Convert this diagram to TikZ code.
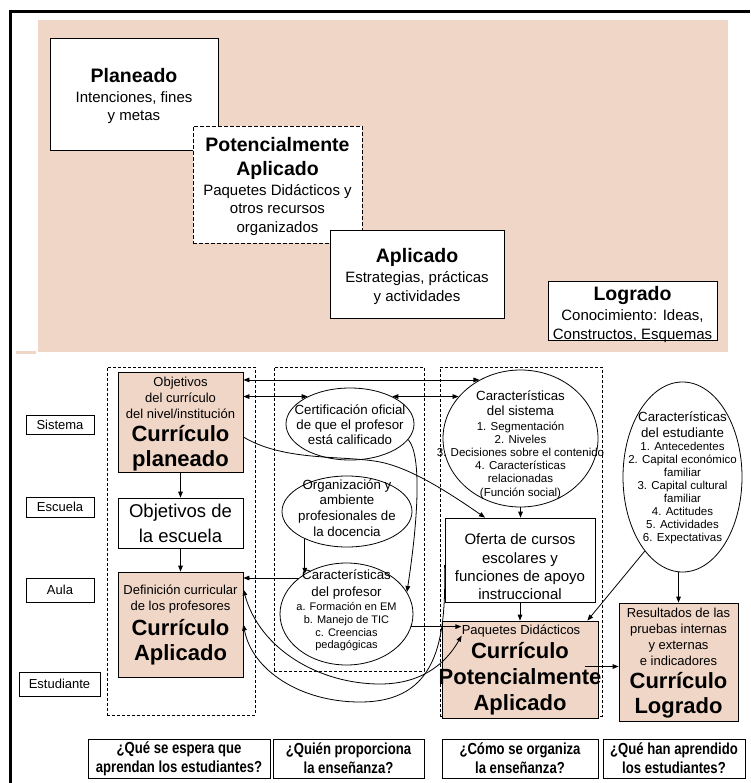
\documentclass[tikz,border=0pt]{standalone}
\usepackage{fontspec}
\setmainfont{Liberation Sans}
\newfontfamily\narrowsans{Liberation Sans}[FakeStretch=0.82]
\usetikzlibrary{arrows.meta,shapes.geometric}
\definecolor{salmon}{RGB}{240,214,199}
\newcommand\myrf[2]{\fontsize{#1}{#2}\selectfont}
\newcommand\mybf[2]{\fontsize{#1}{#2}\selectfont\bfseries}
\begin{document}
\begin{tikzpicture}[x=1pt,y=-1pt,line width=0.8pt,
  >={Triangle[length=6pt,width=4.6pt]},
  box/.style={draw, fill=white, inner sep=0pt},
  cbox/.style={draw, fill=salmon, inner sep=0pt},
  col/.style={draw, dash pattern=on 3pt off 2pt, line width=0.7pt, inner sep=0pt},
  ell/.style={draw, ellipse, inner sep=0pt},
  lbl/.style={inner sep=0pt, align=center},
  lvl/.style={draw, fill=white, inner sep=0pt, font=\myrf{13}{15}},
  qbox/.style={draw, fill=white, inner sep=0pt, align=center,
    font=\narrowsans\bfseries\fontsize{16}{19}\selectfont},
]
\useasboundingbox (0,0) rectangle (750,783);

% upper panel: background and frame
\fill[salmon] (38,20) rectangle (728,352);
\fill[salmon] (16,351) rectangle (36,353.5);
\draw[line width=3.5pt] (10.3,783) -- (10.3,11.7) -- (750,11.7);

% staircase of curriculum levels
\node[box, minimum width=168, minimum height=112] (planbox) at (134,94) {};
\node[lbl, font=\mybf{19.5}{24}] (plant) at (134,76) {Planeado};
\node[lbl, font=\myrf{15}{18}] (plans) at (134,107.5) {Intenciones, fines\\y metas};

\node[box, dash pattern=on 4pt off 2pt, line width=0.9pt, minimum width=169, minimum height=117] (potbox) at (277.5,184.5) {};
\node[lbl, font=\mybf{19.5}{24}] (pott) at (277.5,158) {Potencialmente\\Aplicado};
\node[lbl, font=\myrf{15}{18.5}] (pots) at (277.5,210) {Paquetes Didácticos y\\otros recursos\\organizados};

\node[box, minimum width=174, minimum height=88] (aplbox) at (417,274) {};
\node[lbl, font=\mybf{19.5}{24}] (aplt) at (417,257) {Aplicado};
\node[lbl, font=\myrf{15}{18.5}] (apls) at (417,288) {Estrategias, prácticas\\y actividades};

\node[box, minimum width=169, minimum height=59] (logbox) at (632.5,310.5) {};
\node[lbl, font=\mybf{19.5}{24}] (logt) at (632.5,296) {Logrado};
\node[lbl, font=\myrf{15}{18.5}] (logs) at (632.5,326) {Conocimiento: Ideas,\\Constructos, Esquemas};

% level labels
\node[lvl, minimum width=68, minimum height=18.6] (lsis) at (60,425) {Sistema};
\node[lvl, minimum width=68, minimum height=20] (lesc) at (60,507) {Escuela};
\node[lvl, minimum width=68, minimum height=24] (laula) at (60,590) {Aula};
\node[lvl, minimum width=81, minimum height=24] (lest) at (59.5,684) {Estudiante};

% dashed columns
\node[col, minimum width=148, minimum height=348] (col1) at (181,541) {};
\node[col, minimum width=150, minimum height=304] (col2) at (349,519) {};
\node[col, minimum width=162, minimum height=349] (col3) at (521,541.5) {};

% column 1
\node[cbox, minimum width=125, minimum height=100] (cplan) at (180.5,422) {};
\node[lbl, font=\myrf{13}{16}] (cplans) at (180.5,397.5) {Objetivos\\del currículo\\del nivel/institución};
\node[lbl, font=\mybf{22}{25}] (cplant) at (180.5,448) {Currículo\\planeado};

\node[box, minimum width=125, minimum height=50] (cesc) at (180.5,523) {};
\node[lbl, font=\myrf{18.5}{24.5}] (cesct) at (180.5,523.5) {Objetivos de\\la escuela};

\node[cbox, minimum width=125, minimum height=105] (cdef) at (180.5,624.5) {};
\node[lbl, font=\myrf{13}{16}] (cdefs) at (180.5,599) {Definición curricular\\de los profesores};
\node[lbl, font=\mybf{22}{25}] (cdeft) at (180.5,642) {Currículo\\Aplicado};

% column 2
\node[ell, minimum width=128, minimum height=72] (cert) at (350,424) {};
\node[lbl, font=\myrf{13.3}{15.3}] (certt) at (350,424.5) {Certificación oficial\\de que el profesor\\está calificado};

\node[ell, minimum width=130, minimum height=71] (org) at (347,511.5) {};
\node[lbl, font=\myrf{13.3}{15.7}] (orgt) at (347,508) {Organización y\\ambiente\\profesionales de\\la docencia};

\node[ell, minimum width=133, minimum height=102] (prof) at (346.5,614) {};
\node[lbl, font=\myrf{13.3}{17}] (proft) at (346.5,584.5) {Características\\del profesor};
\node[lbl, font=\myrf{11}{12.7}] (profs) at (346.5,627) {a. Formación en EM\\b. Manejo de TIC\\c. Creencias\\pedagógicas};

% column 3
\node[ell, minimum width=155, minimum height=137] (sis) at (520.5,438.5) {};
\node[lbl, font=\myrf{13.3}{15}] (sist) at (520.5,403.5) {Características\\del sistema};
\node[lbl, font=\myrf{11.5}{13.2}] (siss) at (520.5,460) {1. Segmentación\\2. Niveles\\3. Decisiones sobre el contenido\\4. Características\\relacionadas\\(Función social)};

\node[box, minimum width=150, minimum height=84] (ofe) at (520,560) {};
\node[lbl, font=\myrf{15}{18.3}] (ofet) at (520,567) {Oferta de cursos\\escolares y\\funciones de apoyo\\instruccional};

\node[cbox, minimum width=156, minimum height=97] (paq) at (520,669.5) {};
\node[lbl, font=\myrf{13}{16}] (paqtxt) at (521,631) {Paquetes Didácticos};
\node[lbl, font=\mybf{22}{26}] (paqt) at (520,679) {Currículo\\Potencialmente\\Aplicado};

% student side
\node[ell, minimum width=119, minimum height=190] (stu) at (682.5,477) {};
\node[lbl, font=\myrf{13.3}{16}] (stut) at (682.5,425) {Características\\del estudiante};
\node[lbl, font=\myrf{11.5}{13.1}] (stus) at (682.5,493) {1. Antecedentes\\2. Capital económico\\familiar\\3. Capital cultural\\familiar\\4. Actitudes\\5. Actividades\\6. Expectativas};

\node[cbox, minimum width=119, minimum height=118] (res) at (678.5,662) {};
\node[lbl, font=\myrf{13}{16}] (ress) at (678.5,637) {Resultados de las\\pruebas internas\\y externas\\e indicadores};
\node[lbl, font=\mybf{22}{25}] (rest) at (678.5,695) {Currículo\\Logrado};

% guiding questions
\node[qbox, minimum width=182, minimum height=39] (q1) at (179,758.5) {¿Qué se espera que\\aprendan los estudiantes?};
\node[qbox, minimum width=151, minimum height=39] (q2) at (348.5,758.5) {¿Quién proporciona\\la enseñanza?};
\node[qbox, minimum width=156, minimum height=39] (q3) at (520,758.5) {¿Cómo se organiza\\la enseñanza?};
\node[qbox, minimum width=142, minimum height=39] (q4) at (674,758.5) {¿Qué han aprendido\\los estudiantes?};

% connectors
\draw[<->] (sis.125 -| cplan.east) -- (sis.125);
\draw[<->] (cert.147 -| cplan.east) -- (cert.147);
\draw[<->] (cert.33) -- (cert.33 -| sis.146);
\draw[->] ([yshift=-15pt]cplan.east) .. controls (285,462) and (345,455) .. (380,462)
  .. controls (410,468) and (445,490) .. ([xshift=-35pt]ofe.north);
\draw[->] (cplan) -- (cesc);
\draw[->] (cesc) -- (cdef);
\draw[->] (org.213) -- (org.213 |- prof.136);
\draw[->] (cert.-15) .. controls (422,455) and (418,520) .. (prof.20);
\draw[->] (prof.143) -- (prof.143 -| cdef.east);
\draw[->] (prof.-11) -- (prof.-11 -| paqtxt.west);
\draw[->] (sis.south) -- (sis.south |- ofe.north);
\draw[->] (ofe.south) -- (ofe.south |- paq.north);
\draw[->] (res.north |- stu.south) -- (res.north);
\draw[->] (stu.243) -- ([xshift=-11pt]paq.north east);
\coordinate (pqout) at ([xshift=-13pt,yshift=3pt]paq.east);
\draw[->] (pqout) -- (pqout -| res.west);
\draw[->] ([yshift=-5pt]ofe.west) .. controls (446,640) and (438,702) .. (360,702)
  .. controls (300,702) and (252,670) .. (cdef.east);
\draw[<->] ([yshift=35pt]cdef.east) .. controls (260,650) and (320,684) .. (380,684)
  .. controls (420,684) and (445,665) .. ([xshift=20pt,yshift=-15pt]paq.north west);
\end{tikzpicture}
\end{document}
